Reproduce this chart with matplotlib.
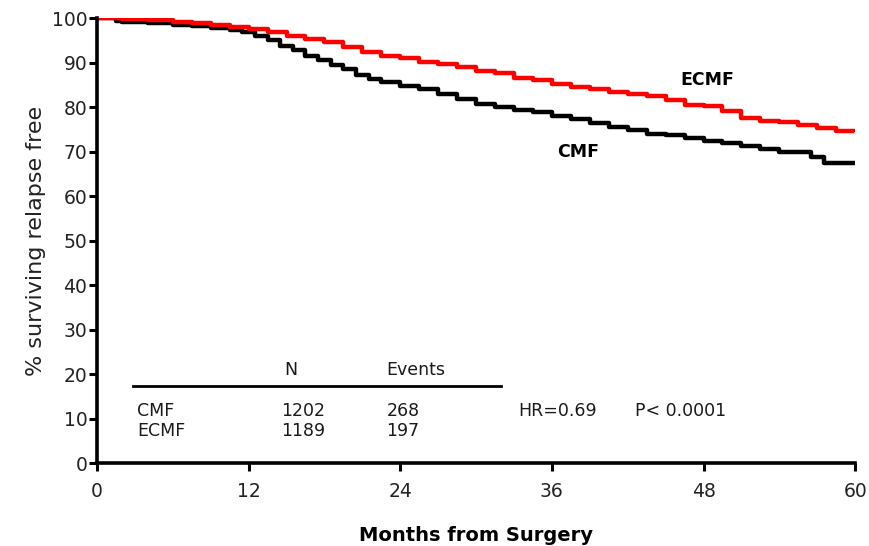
import matplotlib.pyplot as plt

plt.rcParams['font.family'] = ['DejaVu Sans']

# --- Kaplan-Meier style curves (months, % relapse free) ---
cmf_t = [0, 1.5, 2, 4, 6, 7.5, 9, 10.5, 11.5, 12.5, 13.5, 14.5, 15.5, 16.5, 17.5,
         18.5, 19.5, 20.5, 21.5, 22.5, 24, 25.5, 27, 28.5, 30, 31.5, 33, 34.5, 36,
         37.5, 39, 40.5, 42, 43.5, 45, 46.5, 48, 49.5, 51, 52.5, 54, 55.5, 56.5,
         57.5, 60]
cmf_s = [100, 99.4, 99.0, 98.8, 98.5, 98.2, 97.7, 97.2, 96.8, 96.0, 95.0, 93.8,
         92.8, 91.5, 90.5, 89.5, 88.5, 87.2, 86.3, 85.6, 84.8, 84.0, 83.0, 81.8,
         80.6, 80.0, 79.4, 78.8, 77.9, 77.3, 76.5, 75.4, 74.8, 74.0, 73.6, 73.1,
         72.4, 72.0, 71.2, 70.5, 70.0, 69.9, 68.8, 67.5, 67.5]

ecmf_t = [0, 2, 4, 6, 7.5, 9, 10.5, 12, 13.5, 15, 16.5, 18, 19.5, 21, 22.5, 24,
          25.5, 27, 28.5, 30, 31.5, 33, 34.5, 36, 37.5, 39, 40.5, 42, 43.5, 45,
          46.5, 48, 49.5, 51, 52.5, 54, 55.5, 57, 58.5, 60]
ecmf_s = [100, 99.8, 99.6, 99.2, 98.8, 98.4, 98.0, 97.5, 96.8, 96.0, 95.3, 94.5,
          93.5, 92.3, 91.4, 91.0, 90.2, 89.6, 88.9, 88.2, 87.6, 86.6, 86.0, 85.2,
          84.4, 84.0, 83.4, 83.0, 82.4, 81.6, 80.5, 80.2, 79.0, 77.6, 76.9, 76.6,
          76.0, 75.2, 74.7, 74.3]

# summary table
arms = ['CMF', 'ECMF']
n_pts = [1202, 1189]
events = [268, 197]
hr_text = 'HR=0.69'
p_text = 'P< 0.0001'

x_ticks = [0, 12, 24, 36, 48, 60]
y_ticks = list(range(0, 101, 10))

fig = plt.figure(figsize=(8.69, 5.46), dpi=100)
ax = fig.add_axes([0.1116, 0.152, 0.8725, 0.815])

ax.step(cmf_t, cmf_s, where='post', color='black', lw=3.2, solid_capstyle='butt')
ax.step(ecmf_t, ecmf_s, where='post', color='#ff0000', lw=3.2, solid_capstyle='butt')

ax.text(46.2, 86.1, 'ECMF', fontsize=12.5, fontweight='bold', ha='left', va='center')
ax.text(36.4, 69.8, 'CMF', fontsize=12.5, fontweight='bold', ha='left', va='center')

# table block inside the plot
tcol = '#1a1a1a'
fs = 12.5
ax.plot([2.85, 32.0], [17.2, 17.2], color='black', lw=2, clip_on=False)
ax.text(14.8, 21.0, 'N', fontsize=fs, color=tcol, ha='left', va='center')
ax.text(22.9, 21.0, 'Events', fontsize=fs, color=tcol, ha='left', va='center')
for i, arm in enumerate(arms):
    yy = 11.6 - i * 4.3
    ax.text(3.2, yy, arm, fontsize=fs, color=tcol, ha='left', va='center')
    ax.text(14.6, yy, str(n_pts[i]), fontsize=fs, color=tcol, ha='left', va='center')
    ax.text(22.9, yy, str(events[i]), fontsize=fs, color=tcol, ha='left', va='center')
ax.text(33.3, 11.6, hr_text, fontsize=fs, color=tcol, ha='left', va='center')
ax.text(42.6, 11.6, p_text, fontsize=fs, color=tcol, ha='left', va='center')

ax.set_xlim(0, 60)
ax.set_ylim(0, 100)
ax.set_xticks(x_ticks)
ax.set_yticks(y_ticks)
ax.tick_params(direction='out', length=6, width=2.2, labelsize=13.5,
               labelcolor='#222222')
ax.tick_params(axis='x', pad=8)
ax.tick_params(axis='y', pad=1)
for side in ['top', 'right']:
    ax.spines[side].set_visible(False)
for side in ['left', 'bottom']:
    ax.spines[side].set_linewidth(2.6)

ax.set_xlabel('Months from Surgery', fontsize=14, fontweight='bold', labelpad=18)
ax.set_ylabel('% surviving relapse free', fontsize=16, color='#222222', labelpad=4)

fig.savefig('out.png', dpi=100)
